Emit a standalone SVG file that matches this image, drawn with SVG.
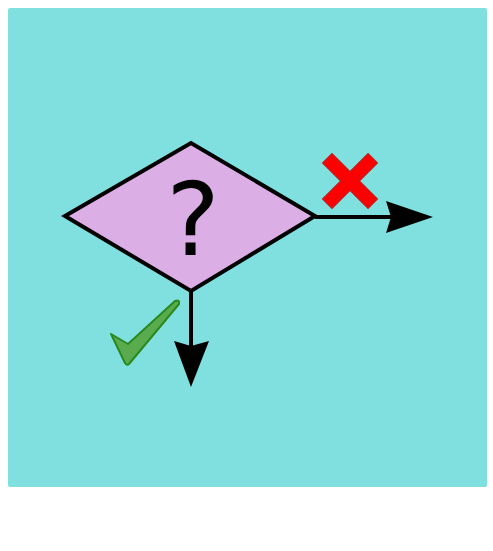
<svg xmlns="http://www.w3.org/2000/svg" width="493" height="551" viewBox="0 0 493 551">
  <defs>
    <style>
      .conn { stroke: #000; stroke-width: 4; fill: none; }
      .head { fill: #000; stroke: none; }
      .q { font-family: "DejaVu Sans", sans-serif; font-size: 101px; fill: #000; }
    </style>
  </defs>
  <rect x="8" y="8" width="479" height="479" rx="2" fill="#80e0e0"/>
  <g id="connectors">
    <line class="conn" x1="315" y1="217" x2="392" y2="217"/>
    <polygon class="head" points="433,217 386,201 391,217 386,233"/>
    <line class="conn" x1="191" y1="291" x2="191" y2="346"/>
    <polygon class="head" points="191,387 174,341 191,346 209,341"/>
  </g>
  <g id="decision">
    <polygon points="65,216 191,143 315,216 191,291" fill="#dcaee6" stroke="#000" stroke-width="4" stroke-linejoin="miter"/>
    <text class="q" x="193" y="255" text-anchor="middle">?</text>
  </g>
  <g id="no-mark">
    <g transform="translate(350,181) rotate(45)">
      <path d="M-6.5,-32 H6.5 V-6.5 H32 V6.5 H6.5 V32 H-6.5 V6.5 H-32 V-6.5 H-6.5 Z" fill="#ff0000" stroke="#cc1a1a" stroke-width="1.5"/>
    </g>
  </g>
  <g id="yes-mark">
    <path d="M111,334 L128,344 L175,301 Q180,299 179,304 L129,364 Q127,366 125,363 Z" fill="#5aab4e" stroke="#2a8a1e" stroke-width="2" stroke-linejoin="round"/>
  </g>
</svg>
